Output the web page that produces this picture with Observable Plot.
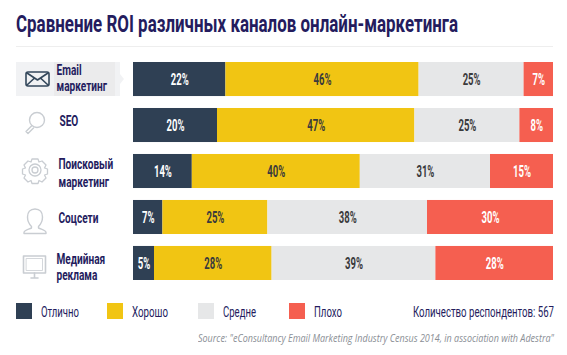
<!DOCTYPE html>
<html><head><meta charset="utf-8">
<script src="https://cdn.jsdelivr.net/npm/d3@7"></script>
<script src="https://cdn.jsdelivr.net/npm/@observablehq/plot@0.6"></script>
<style>
html,body{margin:0;padding:0;background:#fff}
#c{position:relative;width:567px;height:355px;overflow:hidden;font-family:Roboto,sans-serif;color:#241c5e}
#c>*{position:absolute}
#title{left:16px;top:11px;font-size:23px;font-weight:700;white-space:nowrap;line-height:27px;transform-origin:0 50%}
#rule{left:16px;top:46px;width:537px;height:1px;background:#eeeeee}
#hl{left:16px;top:62px;width:104px;height:34px;background:#f1f2f4}
#hl2{left:54px;top:62px;width:61px;height:34px;background:#ebebec}
#tri{left:120px;top:74px;width:0;height:0;border-left:4px solid #f1f2f4;border-top:5px solid transparent;border-bottom:5px solid transparent}
.sw{width:16px;height:16px;top:303px}
.lg{top:304px;font-size:14.5px;line-height:17px;white-space:nowrap;transform-origin:0 50%}
#src{top:331px;font:italic 10.2px "Open Sans",sans-serif;color:#8b8f96;white-space:nowrap;transform-origin:0 50%}
svg.ic{left:0;top:0;fill:none;stroke-linecap:round;stroke-linejoin:round}
</style></head><body>
<div id="c">
<div id="title"></div><div id="rule"></div><div id="hl"></div><div id="hl2"></div><div id="tri"></div>
</div>
<script>
const channels = ["Email\nмаркетинг","SEO","Поисковый\nмаркетинг","Соцсети","Медийная\nреклама"];
const ratings = ["Отлично","Хорошо","Средне","Плохо"];
const colors = ["#2f4054","#f1c513","#e6e7e8","#f55f50"];
const labelColors = ["#ffffff","#3a3a3c","#3a3a3c","#ffffff"];
const excellent = [22,20,14,7,5];
const good = [46,47,40,25,28];
const average = [25,25,31,38,39];
const poor = [7,8,15,30,28];
const titleText = "Сравнение ROI различных каналов онлайн-маркетинга";
const respondents = "Количество респондентов: 567";
const sourceText = "Source: \"eConsultancy Email Marketing Industry Census 2014, in association with Adestra\"";

const series = [excellent,good,average,poor];
const rows = [];
channels.forEach((ch,i)=>{ratings.forEach((r,j)=>{rows.push({channel:ch,rating:r,value:series[j][i]})})});

// horizontally condense every text of a mark (no condensed font is installed)
const condensed = k => (index,scales,values,dims,ctx,next) => {
  const g = next(index,scales,values,dims,ctx);
  g.querySelectorAll("text").forEach(t=>t.setAttribute("transform",(t.getAttribute("transform")||"")+` scale(${k},1)`));
  return g;
};
const labelMark = (subset,lh,dx,dy) => Plot.text(subset,{y:d=>d,x:()=>0,text:d=>d,textAnchor:"start",dx,dy,fill:"#241c5e",
  fontFamily:"Roboto,sans-serif",fontWeight:700,fontSize:14,lineHeight:lh,render:condensed(0.72)});

const chart = Plot.plot({
  width:567,height:355,marginLeft:133,marginRight:14,marginTop:62,marginBottom:75,
  style:{background:"transparent",overflow:"visible"},
  x:{domain:[0,100],axis:null},
  y:{domain:channels,axis:null,paddingInner:0.26,paddingOuter:0,round:false},
  color:{domain:ratings,range:colors},
  marks:[
    Plot.barX(rows,Plot.stackX({x:"value",y:"channel",fill:"rating",order:ratings})),
    Plot.text(rows,Plot.stackX({x:"value",y:"channel",order:ratings,text:d=>d.value+"%",
      fill:d=>labelColors[ratings.indexOf(d.rating)],
      fontFamily:"Roboto,sans-serif",fontWeight:700,fontSize:17,render:condensed(0.56)})),
    labelMark([channels[0]],1.15,-77,-2),
    labelMark([channels[1]],1.15,-74,-4.5),
    labelMark([channels[2]],1.3,-75,0.5),
    labelMark([channels[3]],1.15,-75,0),
    labelMark([channels[4]],1.15,-77,3)
  ]
});
const c = document.getElementById("c");
chart.style.left="0";chart.style.top="0";
c.appendChild(chart);

const fit=(el,w)=>{el.style.transform=`scaleX(${w/el.getBoundingClientRect().width})`};
const titleEl=document.getElementById("title");
titleEl.textContent = titleText; fit(titleEl,442);

const lx=[16,107,198,289], lw=[38,36,33,28];
ratings.forEach((r,i)=>{
  const s=document.createElement("div");s.className="sw";s.style.left=lx[i]+"px";s.style.background=colors[i];c.appendChild(s);
  const t=document.createElement("div");t.className="lg";t.style.left=(lx[i]+25)+"px";t.textContent=r;c.appendChild(t);fit(t,lw[i]);
});
const rp=document.createElement("div");rp.className="lg";rp.style.left="413px";rp.textContent=respondents;c.appendChild(rp);fit(rp,141);
const so=document.createElement("div");so.id="src";so.style.left="198px";so.textContent=sourceText;c.appendChild(so);fit(so,356);

const ns="http://www.w3.org/2000/svg";
const ic=document.createElementNS(ns,"svg");ic.setAttribute("class","ic");ic.setAttribute("width",567);ic.setAttribute("height",355);
ic.innerHTML=`
<g stroke="#33475b" stroke-width="1.6"><rect x="26" y="72" width="23" height="14" rx="2"/><path d="M27 73l10.500 7 10.500-7M27 85l7-6.500M48 85l-7-6.500"/></g>
<g stroke="#c9cdd2" stroke-width="1.4"><circle cx="37" cy="120" r="7.500"/><path d="M31.500 126l-5.500 5.500 2 2 5.500-5.500"/></g>
<g stroke="#c9cdd2" stroke-width="1.3"><circle cx="35" cy="170" r="3"/><circle cx="35" cy="170" r="6"/><path d="M32 159h6l1 3 3-1 4 4-1.500 3 3 1v5l-3 1 1.500 3-4 4-3-1.500-1 3h-6l-1-3-3 1.500-4-4 1.500-3-3-1v-5l3-1-1.500-3 4-4 3 1z"/></g>
<g stroke="#c9cdd2" stroke-width="1.400"><path d="M35 209c-5 0-7.500 3.500-7.500 8 0 4 2 7.500 4 9.500v1.500c-3 1.500-7.500 2-7.500 4.500v1h22v-1c0-2.500-4.500-3-7.500-4.500v-1.500c2-2 4-5.500 4-9.500 0-4.500-2.500-8-7.500-8z"/></g>
<g stroke="#c9cdd2" stroke-width="1.600"><rect x="23.500" y="256" width="22" height="17"/><rect x="26.500" y="258.500" width="16" height="12" stroke-width="0.800"/><path d="M31 278h7M34.500 273v5"/></g>`;
c.appendChild(ic);
</script>
</body></html>
